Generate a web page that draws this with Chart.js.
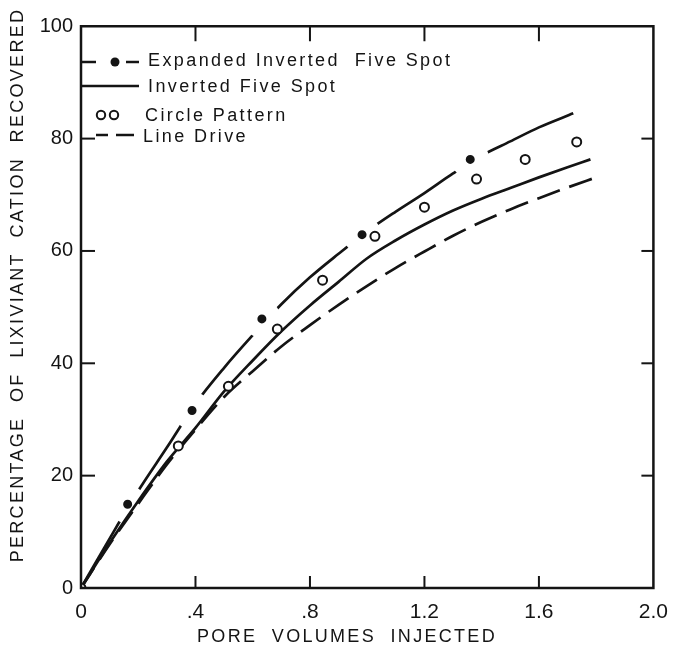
<!DOCTYPE html>
<html>
<head>
<meta charset="utf-8">
<title>Lixiviant cation recovered</title>
<script src="https://cdn.jsdelivr.net/npm/chart.js@4.4.1/dist/chart.umd.min.js"></script>
<style>
  html, body { margin: 0; padding: 0; background: #fff; }
  #chart { display: block; }
</style>
</head>
<body>
<canvas id="chart" width="680" height="659"></canvas>
<script>
// Series names (legend order)
const seriesNames = ['Expanded Inverted  Five Spot', 'Inverted Five Spot', 'Circle Pattern', 'Line Drive'];

// Expanded inverted five spot: fitted curve + measured points
const expandedCurveX = [0, 0.1, 0.2, 0.3, 0.4, 0.5, 0.6, 0.7, 0.8, 0.9, 1.0, 1.1, 1.2, 1.3, 1.4, 1.5, 1.6, 1.72];
const expandedCurveY = [0, 8.8, 17.3, 25.0, 32.8, 39.2, 45.0, 50.5, 55.3, 59.5, 63.5, 67.0, 70.3, 73.8, 77.0, 79.5, 82.0, 84.5];
const expandedPtsX = [0.163, 0.388, 0.632, 0.982, 1.36];
const expandedPtsY = [14.9, 31.6, 47.9, 62.9, 76.3];

// Inverted five spot curve
const invertedX = [0, 0.1, 0.2, 0.3, 0.4, 0.5, 0.6, 0.7, 0.8, 0.9, 1.0, 1.1, 1.2, 1.3, 1.4, 1.5, 1.6, 1.7, 1.78];
const invertedY = [0, 8.0, 15.5, 22.5, 28.5, 35.0, 40.5, 45.7, 50.3, 54.5, 58.7, 61.9, 64.7, 67.2, 69.3, 71.2, 73.1, 74.9, 76.3];

// Circle pattern points
const circleX = [0, 0.34, 0.515, 0.686, 0.844, 1.027, 1.2, 1.382, 1.552, 1.732];
const circleY = [0, 25.3, 35.9, 46.1, 54.8, 62.6, 67.8, 72.8, 76.3, 79.4];

// Line drive curve
const lineDriveX = [0, 0.1, 0.2, 0.3, 0.4, 0.5, 0.6, 0.7, 0.8, 0.9, 1.0, 1.1, 1.2, 1.3, 1.4, 1.5, 1.6, 1.7, 1.8];
const lineDriveY = [0, 7.8, 15.0, 22.0, 28.2, 34.0, 38.6, 43.0, 46.8, 50.4, 53.8, 57.0, 59.9, 62.7, 65.2, 67.4, 69.4, 71.3, 73.1];

// Axes
const xTicks = [0, 0.4, 0.8, 1.2, 1.6, 2.0];
const yTicks = [0, 20, 40, 60, 80, 100];
const xTitle = 'PORE  VOLUMES  INJECTED';
const yTitle = 'PERCENTAGE  OF  LIXIVIANT  CATION  RECOVERED';

const INK = '#141414';
const FONT = '"Liberation Sans", Arial, sans-serif';

const pts = (xs, ys) => xs.map((x, i) => ({ x: x, y: ys[i] }));

function fmtX(v) {
    if (v === 0) return '0';
    const s = Number(v).toFixed(1);
    return v < 1 ? s.replace(/^0/, '') : s;
}

function line(ctx, x1, y1, x2, y2) {
    ctx.beginPath();
    ctx.moveTo(x1, y1);
    ctx.lineTo(x2, y2);
    ctx.stroke();
}

// frame, inward ticks, legend and axis titles
const decorPlugin = {
    id: 'decor',
    afterDraw(chart) {
        const { ctx, chartArea: a, scales } = chart;
        const xs = scales.x, ys = scales.y;
        ctx.save();
        ctx.strokeStyle = INK;
        ctx.lineWidth = 2.5;
        ctx.strokeRect(a.left, a.top, a.right - a.left, a.bottom - a.top);

        ctx.lineWidth = 2;
        xs.ticks.forEach(t => {
            if (t.value <= xs.min || t.value >= xs.max) return;
            const px = xs.getPixelForValue(t.value);
            line(ctx, px, a.bottom, px, a.bottom - 12);
            line(ctx, px, a.top, px, a.top + 15);
        });
        ys.ticks.forEach(t => {
            if (t.value <= ys.min || t.value >= ys.max) return;
            const py = ys.getPixelForValue(t.value);
            line(ctx, a.left, py, a.left + 14, py);
            line(ctx, a.right, py, a.right - 12, py);
        });

        // legend
        const lx = a.left + 1;
        const tx = a.left + 67;
        const rows = [62, 86, 115, 135];
        ctx.lineWidth = 2.5;
        // row 1: dash - dot - dash
        line(ctx, lx, rows[0], lx + 14, rows[0]);
        line(ctx, lx + 44, rows[0], lx + 57, rows[0]);
        ctx.fillStyle = INK;
        ctx.beginPath(); ctx.arc(lx + 33, rows[0], 4.5, 0, Math.PI * 2); ctx.fill();
        // row 2: solid
        line(ctx, lx, rows[1], lx + 57, rows[1]);
        // row 3: two open circles
        ctx.lineWidth = 2;
        [lx + 19, lx + 32].forEach(cx => {
            ctx.beginPath(); ctx.arc(cx, rows[2], 4.2, 0, Math.PI * 2); ctx.stroke();
        });
        // row 4: dashes
        ctx.lineWidth = 2.5;
        line(ctx, lx + 14, rows[3], lx + 26, rows[3]);
        line(ctx, lx + 34, rows[3], lx + 52, rows[3]);

        ctx.font = '18px ' + FONT;
        ctx.letterSpacing = '2.4px';
        ctx.textAlign = 'left';
        ctx.textBaseline = 'middle';
        const textRows = [61, 87, 116, 137];
        seriesNames.forEach((name, i) => ctx.fillText(name, tx - (i === 3 ? 5 : i === 2 ? 3 : 0), textRows[i]));

        // axis titles
        ctx.letterSpacing = '2.3px';
        ctx.textAlign = 'center';
        ctx.fillText(xTitle, 347, 637);
        ctx.translate(18, 285);
        ctx.rotate(-Math.PI / 2);
        ctx.fillText(yTitle, 0, 0);
        ctx.restore();
    }
};

new Chart(document.getElementById('chart'), {
    type: 'scatter',
    data: {
        datasets: [
            {
                label: seriesNames[0],
                data: pts(expandedCurveX, expandedCurveY),
                showLine: true,
                cubicInterpolationMode: 'monotone',
                borderColor: INK,
                borderWidth: 2.7,
                pointRadius: 0,
                order: 6
            },
            {
                label: seriesNames[0] + ' points',
                data: pts(expandedPtsX, expandedPtsY),
                showLine: false,
                pointRadius: 11.75,
                pointBorderWidth: 14.5,
                pointBackgroundColor: INK,
                pointBorderColor: '#fff',
                order: 5
            },
            {
                label: seriesNames[1],
                data: pts(invertedX, invertedY),
                showLine: true,
                cubicInterpolationMode: 'monotone',
                borderColor: INK,
                borderWidth: 2.7,
                pointRadius: 0,
                order: 3
            },
            {
                label: seriesNames[3],
                data: pts(lineDriveX, lineDriveY),
                showLine: true,
                cubicInterpolationMode: 'monotone',
                borderColor: INK,
                borderWidth: 2.7,
                borderDash: [24, 10],
                pointRadius: 0,
                order: 2
            },
            {
                label: seriesNames[2],
                data: pts(circleX, circleY),
                showLine: false,
                pointRadius: 4.5,
                pointBorderWidth: 2,
                pointBackgroundColor: '#fff',
                pointBorderColor: INK,
                order: 1
            }
        ]
    },
    options: {
        responsive: false,
        animation: false,
        events: [],
        layout: { padding: { top: 14, right: 17, left: 0, bottom: 0 } },
        plugins: {
            legend: { display: false },
            tooltip: { enabled: false }
        },
        scales: {
            x: {
                type: 'linear',
                min: 0,
                max: 2,
                afterFit(s) { s.height = 71; },
                afterBuildTicks(s) { s.ticks = xTicks.map(v => ({ value: v })); },
                grid: { display: false, drawTicks: false },
                border: { display: false },
                ticks: {
                    autoSkip: false,
                    maxRotation: 0,
                    padding: 12,
                    color: INK,
                    font: { family: FONT, size: 21 },
                    callback: v => fmtX(v)
                }
            },
            y: {
                type: 'linear',
                min: 0,
                max: 100,
                afterFit(s) { s.width = 81; },
                afterBuildTicks(s) { s.ticks = yTicks.map(v => ({ value: v })); },
                grid: { display: false, drawTicks: false },
                border: { display: false },
                ticks: {
                    autoSkip: false,
                    padding: 8,
                    color: INK,
                    font: { family: FONT, size: 20 },
                    callback: v => String(v)
                }
            }
        }
    },
    plugins: [decorPlugin]
});
</script>
</body>
</html>
